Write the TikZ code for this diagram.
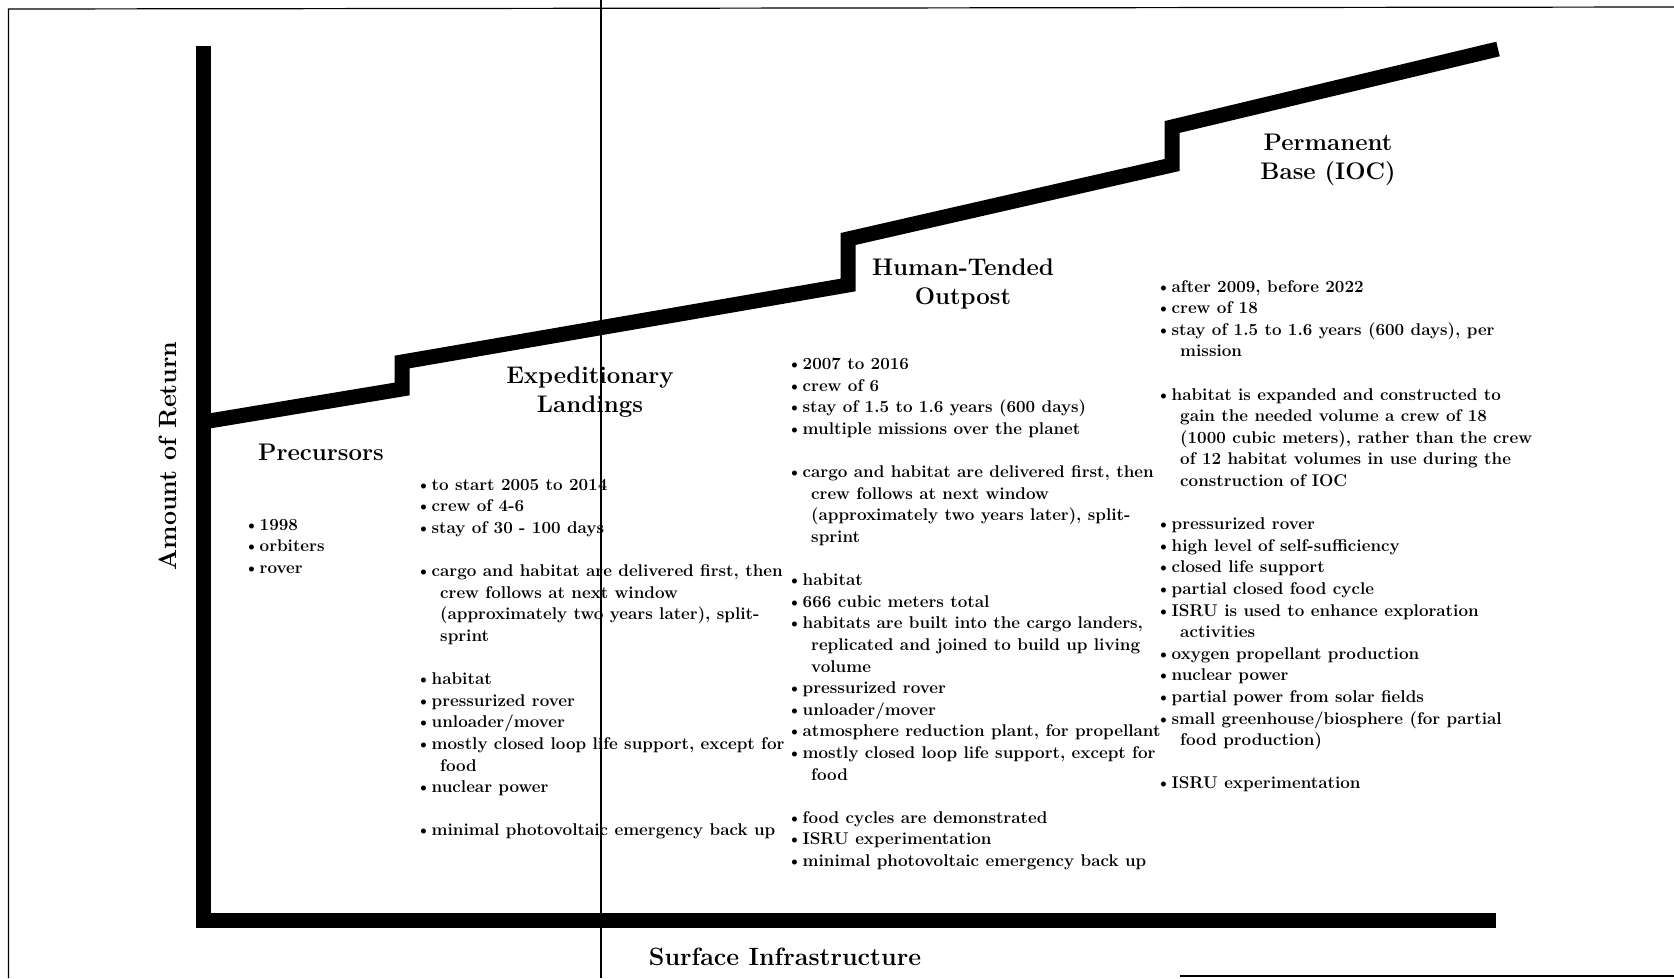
\documentclass[tikz,border=0pt]{standalone}
\usepackage{tikz}

\newcommand{\bul}{\makebox[11.5pt][l]{\kern-4pt\textbullet}}
\newcommand{\contd}{\hspace*{20pt}}

\begin{document}
\begin{tikzpicture}[%
  x=1pt, y=-1pt,
  frame/.style={line width=1.2pt},
  heavy/.style={line width=15pt},
  stage/.style={align=center, font=\fontsize{24}{29}\selectfont\bfseries},
  facts/.style={align=left, anchor=north west, inner sep=0pt,
    font=\fontsize{17}{21.6}\selectfont\bfseries},
  axislabel/.style={font=\fontsize{25}{30}\selectfont\bfseries},
]

  \useasboundingbox (0,0) rectangle (1674,978);

  % page frame
  \draw[frame] (8.5,978) -- (8.5,9) -- (1674,7);
  \draw[frame] (601,0) -- (601,978);
  \draw[frame] (1180,976) -- (1674,976);

  % axes
  \draw[heavy] (203,46) -- (203,920) -- (1496,920);

  % staircase of stages
  \draw[heavy] (203,422) -- (402,389) -- (402,362) -- (848,285)
    -- (848,239) -- (1172,165) -- (1172,127) -- (1498,49);

  \node[axislabel, rotate=90] (ylab) at (168,456) {Amount of Return};
  \node[axislabel] (xlab) at (785,957) {Surface Infrastructure};

  % stage titles
  \node[stage] (pre) at (321,452) {Precursors};
  \node[stage] (exp) at (590,392) {Expeditionary\\Landings};
  \node[stage] (hto) at (963,284) {Human-Tended\\Outpost};
  \node[stage] (pbs) at (1328,160) {Permanent\\Base (IOC)};

  % stage contents
  \node[facts] (prelist) at (248,519) {%
    \bul 1998\\
    \bul orbiters\\
    \bul rover};

  \node[facts] (explist) at (420,479) {%
    \bul to start 2005 to 2014\\
    \bul crew of 4-6\\
    \bul stay of 30 - 100 days\\[21.6pt]
    \bul cargo and habitat are delivered first, then\\
    \contd crew follows at next window\\
    \contd (approximately two years later), split-\\
    \contd sprint\\[21.6pt]
    \bul habitat\\
    \bul pressurized rover\\
    \bul unloader/mover\\
    \bul mostly closed loop life support, except for\\
    \contd food\\
    \bul nuclear power\\[21.6pt]
    \bul minimal photovoltaic emergency back up};

  \node[facts] (htolist) at (791,358) {%
    \bul 2007 to 2016\\
    \bul crew of 6\\
    \bul stay of 1.5 to 1.6 years (600 days)\\
    \bul multiple missions over the planet\\[21.6pt]
    \bul cargo and habitat are delivered first, then\\
    \contd crew follows at next window\\
    \contd (approximately two years later), split-\\
    \contd sprint\\[21.6pt]
    \bul habitat\\
    \bul 666 cubic meters total\\
    \bul habitats are built into the cargo landers,\\
    \contd replicated and joined to build up living\\
    \contd volume\\
    \bul pressurized rover\\
    \bul unloader/mover\\
    \bul atmosphere reduction plant, for propellant\\
    \bul mostly closed loop life support, except for\\
    \contd food\\[21.6pt]
    \bul food cycles are demonstrated\\
    \bul ISRU experimentation\\
    \bul minimal photovoltaic emergency back up};

  \node[facts] (pbslist) at (1160,280) {%
    \bul after 2009, before 2022\\
    \bul crew of 18\\
    \bul stay of 1.5 to 1.6 years (600 days), per\\
    \contd mission\\[21.6pt]
    \bul habitat is expanded and constructed to\\
    \contd gain the needed volume a crew of 18\\
    \contd (1000 cubic meters), rather than the crew\\
    \contd of 12 habitat volumes in use during the\\
    \contd construction of IOC\\[21.6pt]
    \bul pressurized rover\\
    \bul high level of self-sufficiency\\
    \bul closed life support\\
    \bul partial closed food cycle\\
    \bul ISRU is used to enhance exploration\\
    \contd activities\\
    \bul oxygen propellant production\\
    \bul nuclear power\\
    \bul partial power from solar fields\\
    \bul small greenhouse/biosphere (for partial\\
    \contd food production)\\[21.6pt]
    \bul ISRU experimentation};

\end{tikzpicture}
\end{document}
